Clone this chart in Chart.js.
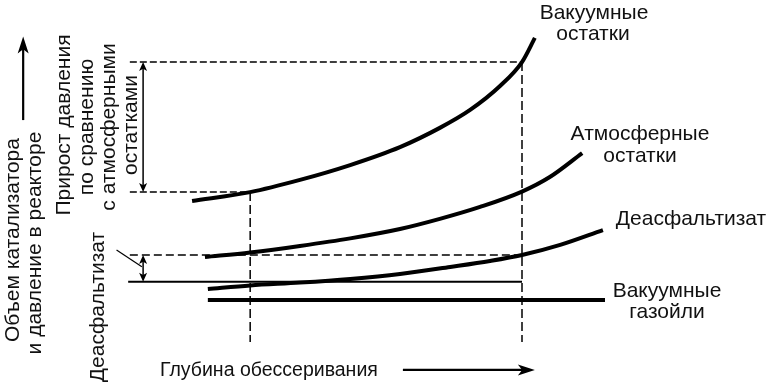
<!DOCTYPE html>
<html><head><meta charset="utf-8">
<script src="https://cdn.jsdelivr.net/npm/chart.js@4.4.1/dist/chart.umd.min.js"></script>
<style>html,body{margin:0;padding:0;background:#fff}#wrap{width:769px;height:391px;position:relative}</style>
</head><body>
<div id="wrap"><canvas id="c"></canvas></div>
<script>
// Schematic units: x = depth of desulfurization (0..100), y = catalyst volume & reactor pressure (0..100)
const vrX  = [0.5, 14.5, 26.5, 38.6, 50.6, 60.2, 67.5, 74.7, 80.0, 83.1];
const vrY  = [38.1, 41.5, 46.2, 51.9, 58.8, 66.2, 73.1, 82.3, 91.5, 100.8];
const arX  = [3.6, 14.5, 26.5, 38.6, 50.6, 60.2, 69.9, 80.0, 86.7, 94.5];
const arY  = [16.5, 18.3, 20.8, 23.7, 27.3, 31.2, 35.8, 41.7, 47.3, 56.5];
const daoX = [4.3, 14.5, 26.5, 38.6, 50.6, 62.7, 72.3, 80.0, 89.2, 99.5];
const daoY = [4.2, 5.6, 6.7, 8.1, 10.0, 12.7, 15.0, 17.3, 21.2, 26.9];
const vgoX = [4.3, 100];
const vgoY = [0, 0];
const baseDepth = 14.5, targetDepth = 80.0;
const guideStart = -14.5, guideBottom = -16.2;
const vrLevelTarget = 91.5, vrLevelBase = 41.5, daoLevelTarget = 17.3, daoLevelBase = 7.0;
const arrowX = -11.3;

const pts = (xs, ys) => xs.map((x, i) => ({x, y: ys[i]}));
const curve = (xs, ys) => ({data: pts(xs, ys), showLine: true, borderColor: '#000', borderWidth: 4,
  pointRadius: 0, tension: 0.4, cubicInterpolationMode: 'monotone', clip: false, fill: false});
const guide = (data, dash, w) => ({data, showLine: true, borderColor: '#000', borderWidth: w,
  borderDash: dash, pointRadius: 0, tension: 0, clip: false, fill: false});

function head(ctx, x, y, ang, len, half) {
  ctx.save(); ctx.translate(x, y); ctx.rotate(ang);
  ctx.beginPath(); ctx.moveTo(0, 0); ctx.lineTo(-len, -half); ctx.lineTo(-len * 0.75, 0); ctx.lineTo(-len, half);
  ctx.closePath(); ctx.fill(); ctx.restore();
}

const deco = {
  id: 'deco',
  afterDatasetsDraw(chart) {
    const ctx = chart.ctx, xs = chart.scales.x, ys = chart.scales.y;
    const X = v => xs.getPixelForValue(v), Y = v => ys.getPixelForValue(v);
    ctx.save();
    ctx.strokeStyle = '#000'; ctx.fillStyle = '#000';
    const dbl = (x, y1, y2) => {
      ctx.lineWidth = 1.5; ctx.beginPath(); ctx.moveTo(X(x), Y(y1) + 3); ctx.lineTo(X(x), Y(y2) - 3); ctx.stroke();
      head(ctx, X(x), Y(y1), -Math.PI / 2, 9, 4);
      head(ctx, X(x), Y(y2), Math.PI / 2, 9, 4);
    };
    dbl(arrowX, vrLevelTarget, vrLevelBase);
    dbl(arrowX, daoLevelTarget, daoLevelBase);
    ctx.lineWidth = 1.2; ctx.beginPath(); ctx.moveTo(X(-17.7), Y(19.2)); ctx.lineTo(X(-11.6), Y(12.8)); ctx.stroke();
    ctx.lineWidth = 2.2;
    ctx.beginPath(); ctx.moveTo(X(-40.2), Y(69.2)); ctx.lineTo(X(-40.2), Y(99)); ctx.stroke();
    head(ctx, X(-40.2), Y(101.3), -Math.PI / 2, 17, 5.5);
    ctx.beginPath(); ctx.moveTo(X(51.3), Y(-26.9)); ctx.lineTo(X(80.5), Y(-26.9)); ctx.stroke();
    head(ctx, X(83.1), Y(-26.9), 0, 17, 5.5);

    ctx.fillStyle = '#111';
    ctx.font = '21px "Liberation Sans", Arial, sans-serif';
    ctx.textAlign = 'center'; ctx.textBaseline = 'middle';
    const t = (s, x, y) => ctx.fillText(s, x, y);
    t('Вакуумные', 594, 13); t('остатки', 593, 34);
    t('Атмосферные', 640, 134); t('остатки', 640, 156);
    t('Деасфальтизат', 691, 219);
    t('Вакуумные', 667, 291); t('газойли', 667, 312);
    ctx.font = '19.5px "Liberation Sans", Arial, sans-serif';
    ctx.textAlign = 'left';
    t('Глубина обессеривания', 160, 371);
    ctx.font = '21px "Liberation Sans", Arial, sans-serif';
    const r = (s, x, y) => { ctx.save(); ctx.translate(x, y); ctx.rotate(-Math.PI / 2); ctx.textAlign = 'center'; ctx.fillText(s, 0, 0); ctx.restore(); };
    r('Объем катализатора', 13, 240);
    r('и давление в реакторе', 35, 243);
    r('Прирост давления', 64, 125);
    r('по сравнению', 87, 127);
    r('с атмосферными', 109, 127);
    r('остатками', 131, 125);
    r('Деасфальтизат', 98, 307);
    ctx.restore();
  }
};

new Chart(document.getElementById('c'), {
  type: 'scatter',
  data: {datasets: [
    curve(vrX, vrY), curve(arX, arY), curve(daoX, daoY), curve(vgoX, vgoY),
    guide([{x: guideStart, y: vrLevelTarget}, {x: targetDepth, y: vrLevelTarget}], [7, 3], 1.5),
    guide([{x: guideStart, y: vrLevelBase}, {x: baseDepth, y: vrLevelBase}], [7, 3], 1.5),
    guide([{x: guideStart, y: daoLevelTarget}, {x: targetDepth, y: daoLevelTarget}], [8, 4], 1.3),
    guide([{x: -14.9, y: daoLevelBase}, {x: targetDepth, y: daoLevelBase}], [], 2),
    guide([{x: baseDepth, y: vrLevelBase}, {x: baseDepth, y: guideBottom}], [9, 4], 1.5),
    guide([{x: targetDepth, y: vrLevelTarget}, {x: targetDepth, y: guideBottom}], [9, 4], 1.5)
  ]},
  options: {
    responsive: true, maintainAspectRatio: false, animation: false,
    layout: {padding: {left: 190, right: 164, top: 40, bottom: 91}},
    scales: {x: {type: 'linear', min: 0, max: 100, display: false}, y: {type: 'linear', min: 0, max: 100, display: false}},
    plugins: {legend: {display: false}, tooltip: {enabled: false}}
  },
  plugins: [deco]
});
</script>
</body></html>
